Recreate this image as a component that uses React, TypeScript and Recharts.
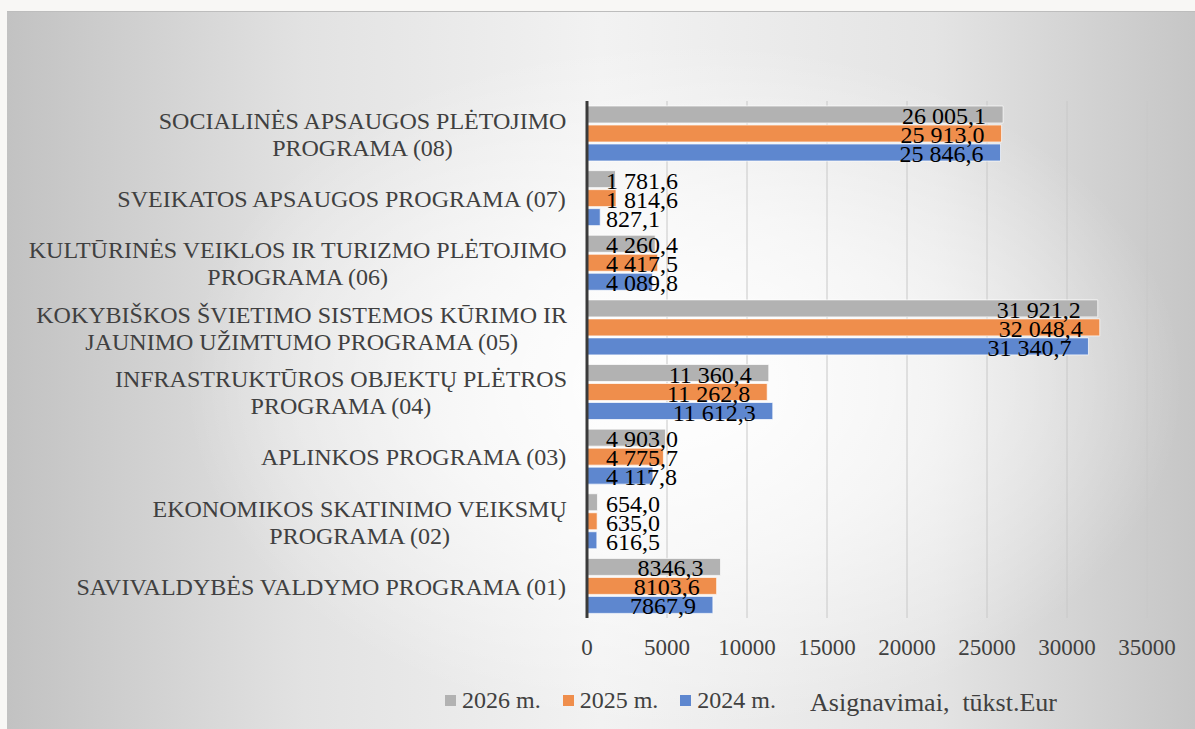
import { Bar, BarChart, CartesianGrid, LabelList, XAxis, YAxis } from "recharts"

const categories = [
  "SOCIALINĖS APSAUGOS PLĖTOJIMO\nPROGRAMA (08)",
  "SVEIKATOS APSAUGOS PROGRAMA (07)",
  "KULTŪRINĖS VEIKLOS IR TURIZMO PLĖTOJIMO\nPROGRAMA (06)",
  "KOKYBIŠKOS ŠVIETIMO SISTEMOS KŪRIMO IR\nJAUNIMO UŽIMTUMO PROGRAMA (05)",
  "INFRASTRUKTŪROS OBJEKTŲ PLĖTROS\nPROGRAMA (04)",
  "APLINKOS PROGRAMA (03)",
  "EKONOMIKOS SKATINIMO VEIKSMŲ\nPROGRAMA (02)",
  "SAVIVALDYBĖS VALDYMO PROGRAMA (01)",
]

const values2026 = [26005.1, 1781.6, 4260.4, 31921.2, 11360.4, 4903.0, 654.0, 8346.3]
const values2025 = [25913.0, 1814.6, 4417.5, 32048.4, 11262.8, 4775.7, 635.0, 8103.6]
const values2024 = [25846.6, 827.1, 4089.8, 31340.7, 11612.3, 4117.8, 616.5, 7867.9]

const labels2026 = ["26 005,1", "1 781,6", "4 260,4", "31 921,2", "11 360,4", "4 903,0", "654,0", "8346,3"]
const labels2025 = ["25 913,0", "1 814,6", "4 417,5", "32 048,4", "11 262,8", "4 775,7", "635,0", "8103,6"]
const labels2024 = ["25 846,6", "827,1", "4 089,8", "31 340,7", "11 612,3", "4 117,8", "616,5", "7867,9"]

const xTicks = [0, 5000, 10000, 15000, 20000, 25000, 30000, 35000]

const series = [
  { key: "y2026", label: "l2026", name: "2026 m.", color: "#b2b2b2" },
  { key: "y2025", label: "l2025", name: "2025 m.", color: "#ef8e4c" },
  { key: "y2024", label: "l2024", name: "2024 m.", color: "#5e87cf" },
]

const axisTitle = "Asignavimai,  tūkst.Eur"

const data = categories.map((name, i) => ({
  name,
  y2026: values2026[i],
  y2025: values2025[i],
  y2024: values2024[i],
  l2026: labels2026[i],
  l2025: labels2025[i],
  l2024: labels2024[i],
}))

const FONT = "'Liberation Serif', 'Times New Roman', serif"
const TEXT = "#404040"

let ctx: CanvasRenderingContext2D | null = null
function measure(text: string, size: number) {
  if (!ctx) ctx = document.createElement("canvas").getContext("2d")
  if (!ctx) return text.length * size * 0.5
  ctx.font = `${size}px 'Liberation Serif'`
  return ctx.measureText(text).width
}

function CategoryTick(props: any) {
  const { x, y, payload } = props
  const lines = String(payload.value).split("\n")
  const size = 24
  const maxW = Math.max(...lines.map((l) => measure(l, size)))
  const cx = x - 20 - maxW / 2
  const lh = 27
  return (
    <g>
      {lines.map((l, i) => (
        <text
          key={i}
          x={cx}
          y={y + 9 + (i - (lines.length - 1) / 2) * lh}
          textAnchor="middle"
          fontSize={size}
          fontFamily={FONT}
          fill={TEXT}
        >
          {l}
        </text>
      ))}
    </g>
  )
}

function ValueTick(props: any) {
  const { x, y, payload } = props
  return (
    <text x={x} y={y + 37} textAnchor="middle" fontSize={23} fontFamily={FONT} fill={TEXT}>
      {payload.value}
    </text>
  )
}

function BarLabel(props: any) {
  const { x, y, width, height, value } = props
  const size = 24
  const tw = measure(String(value), size)
  const end = Math.max(x + width - 17, x + 19 + tw)
  return (
    <text x={end} y={y + height / 2 + 9.5} textAnchor="end" fontSize={size} fontFamily={FONT} fill="#000000">
      {value}
    </text>
  )
}

export default function App() {
  return (
    <div style={{ position: "absolute", left: 0, top: 0, width: 1195, height: 729, background: "#f8f7f5", overflow: "hidden" }}>
      <div
        style={{
          position: "absolute",
          left: 7,
          top: 11,
          right: 0,
          bottom: 0,
          borderTop: "1px solid #bdbdbd",
          background:
            "radial-gradient(ellipse 42% 48% at 57% 52%, rgba(255,255,255,1) 0%, rgba(255,255,255,0.6) 50%, rgba(255,255,255,0) 100%), linear-gradient(to right, #c2c2c2 0%, #e2e2e2 25%, #f2f2f2 50%, #e4e4e4 78%, #c6c6c6 100%)",
        }}
      />
      <div style={{ position: "absolute", left: 0, top: 0 }}>
        <BarChart
          width={1195}
          height={729}
          data={data}
          layout="vertical"
          margin={{ top: 101, right: 48, left: 0, bottom: 0 }}
          barCategoryGap={5}
          barGap={2}
        >
          <CartesianGrid horizontal={false} stroke="#c8c8c8" />
          <XAxis
            type="number"
            domain={[0, 35000]}
            ticks={xTicks}
            axisLine={false}
            tickLine={false}
            tickSize={0}
            tickMargin={0}
            height={111}
            tick={<ValueTick />}
            interval={0}
          />
          <YAxis
            type="category"
            dataKey="name"
            width={587}
            axisLine={{ stroke: "#3a3a3a", strokeWidth: 3 }}
            tickLine={false}
            tickSize={0}
            tickMargin={0}
            tick={<CategoryTick />}
            interval={0}
          />
          {series.map((s) => (
            <Bar
              key={s.key}
              dataKey={s.key}
              name={s.name}
              fill={s.color}
              stroke="#ffffff"
              strokeOpacity={0.7}
              strokeWidth={1}
              isAnimationActive={false}
            >
              <LabelList dataKey={s.label} content={<BarLabel />} />
            </Bar>
          ))}
        </BarChart>
      </div>
      <div
        style={{
          position: "absolute",
          left: 445,
          top: 682,
          display: "flex",
          alignItems: "center",
          fontFamily: FONT,
          fontSize: 24,
          color: TEXT,
          whiteSpace: "pre",
        }}
      >
        {series.map((s) => (
          <div key={s.key} style={{ display: "flex", alignItems: "center", marginRight: 22 }}>
            <span style={{ width: 11, height: 11, background: s.color, marginRight: 6, display: "inline-block" }} />
            <span>{s.name}</span>
          </div>
        ))}
        <span style={{ fontSize: 26, marginLeft: 12, marginTop: 6 }}>{axisTitle}</span>
      </div>
    </div>
  )
}
